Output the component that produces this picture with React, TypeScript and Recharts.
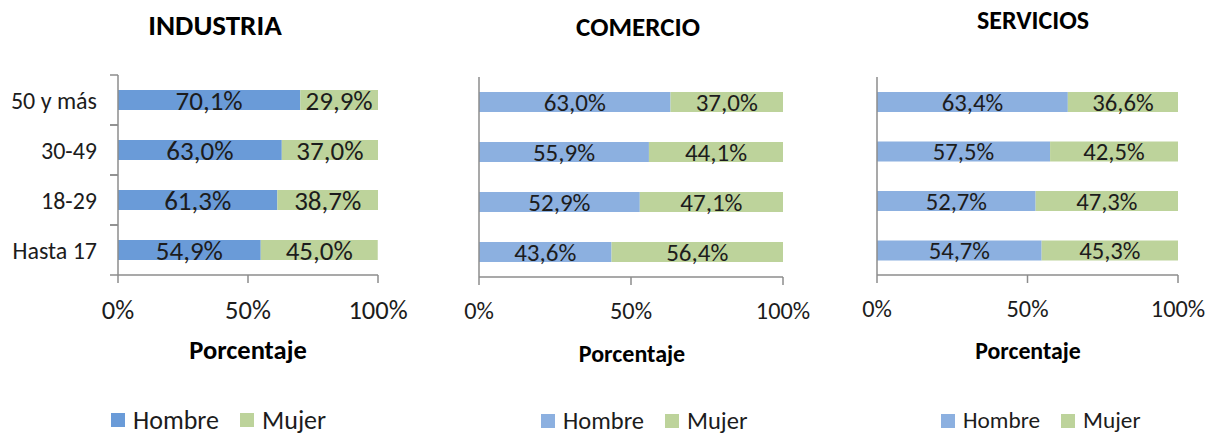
import React from 'react';
import { BarChart, Bar, XAxis, YAxis, LabelList, Legend } from 'recharts';

const ageGroups = ['50 y más', '30-49', '18-29', 'Hasta 17'];
const xTicks = [0, 50, 100];
const seriesNames = ['Hombre', 'Mujer'];

const industriaHombre = [70.1, 63.0, 61.3, 54.9];
const industriaMujer = [29.9, 37.0, 38.7, 45.0];
const comercioHombre = [63.0, 55.9, 52.9, 43.6];
const comercioMujer = [37.0, 44.1, 47.1, 56.4];
const serviciosHombre = [63.4, 57.5, 52.7, 54.7];
const serviciosMujer = [36.6, 42.5, 47.3, 45.3];

const FONT = 'Carlito, Lato, sans-serif';
const AXIS = '#8c8c8c';
const TEXT = '#1c1c1c';

const makeRows = (h: number[], m: number[]) =>
  ageGroups.map((age, i) => ({ age, hombre: h[i], mujer: m[i] }));

const fmt = (v: any) => `${Number(v).toFixed(1).replace('.', ',')}%`;

const CatTick = (props: any) => {
  const { x, y, payload, height, visibleTicksCount, fontSize } = props;
  const half =
    height && visibleTicksCount ? height / visibleTicksCount / 2 : payload?.offset || 25;
  const ax = x + 21;
  return (
    <g>
      <line x1={ax - 8} x2={ax} y1={y - half} y2={y - half} stroke={AXIS} strokeWidth={1.5} />
      <line x1={ax - 8} x2={ax} y1={y + half} y2={y + half} stroke={AXIS} strokeWidth={1.5} />
      <text x={x} y={y} dy="0.36em" textAnchor="end" fontSize={fontSize} fill={TEXT} fontFamily={FONT}>
        {payload.value}
      </text>
    </g>
  );
};

const LegendContent = (props: any) => {
  const { payload, fontSize } = props;
  return (
    <div style={{ display: 'flex', alignItems: 'center', fontFamily: FONT, fontSize, lineHeight: `${fontSize}px`, color: TEXT }}>
      {(payload || []).map((p: any, i: number) => (
        <div key={i} style={{ display: 'flex', alignItems: 'center', marginRight: i === 0 ? 21 : 0 }}>
          <span style={{ width: 14, height: 14, background: p.color, marginRight: 8, display: 'inline-block' }} />
          <span>{p.value}</span>
        </div>
      ))}
    </div>
  );
};

type PanelCfg = {
  title: string;
  rows: any[];
  blue: string;
  green: string;
  left: number;
  width: number;
  margin: { top: number; right: number; bottom: number; left: number };
  yWidth: number;
  showCats: boolean;
  titleX: number;
  titleY: number;
  titleSize: number;
  axisTitleX: number;
  axisTitleY: number;
  axisTitleSize: number;
  labelSize: number;
  tickSize: number;
  catSize: number;
  legendLeft: number;
  legendTop: number;
  legendSize: number;
};

const panels: PanelCfg[] = [
  {
    title: 'INDUSTRIA', rows: makeRows(industriaHombre, industriaMujer), blue: '#6a9bd8', green: '#bdd39b',
    left: 0, width: 410, margin: { top: 75, right: 32, bottom: 122, left: 0 }, yWidth: 118, showCats: true,
    titleX: 215, titleY: 25, titleSize: 29, axisTitleX: 248, axisTitleY: 350, axisTitleSize: 26.5,
    labelSize: 27, tickSize: 26.5, catSize: 24, legendLeft: 111, legendTop: 407, legendSize: 26,
  },
  {
    title: 'COMERCIO', rows: makeRows(comercioHombre, comercioMujer), blue: '#8cb0e0', green: '#bdd39b',
    left: 420, width: 400, margin: { top: 77, right: 37, bottom: 120, left: 0 }, yWidth: 59, showCats: false,
    titleX: 638, titleY: 26, titleSize: 27, axisTitleX: 632, axisTitleY: 354, axisTitleSize: 24,
    labelSize: 25, tickSize: 24.3, catSize: 22, legendLeft: 121, legendTop: 409, legendSize: 24.5,
  },
  {
    title: 'SERVICIOS', rows: makeRows(serviciosHombre, serviciosMujer), blue: '#8cb0e0', green: '#bdd39b',
    left: 820, width: 399, margin: { top: 77, right: 41, bottom: 122, left: 0 }, yWidth: 57, showCats: false,
    titleX: 1033, titleY: 20, titleSize: 26, axisTitleX: 1028, axisTitleY: 351, axisTitleSize: 23.8,
    labelSize: 24.7, tickSize: 24.3, catSize: 22, legendLeft: 121, legendTop: 409, legendSize: 23.3,
  },
];

const Panel = ({ cfg }: { cfg: PanelCfg }) => (
  <>
    <div
      style={{
        position: 'absolute', left: cfg.titleX - 150, top: cfg.titleY - cfg.titleSize / 2, width: 300,
        textAlign: 'center', fontFamily: FONT, fontWeight: 'bold', fontSize: cfg.titleSize,
        lineHeight: `${cfg.titleSize}px`, color: '#000',
      }}
    >
      {cfg.title}
    </div>
    <div
      style={{
        position: 'absolute', left: cfg.axisTitleX - 150, top: cfg.axisTitleY - cfg.axisTitleSize / 2, width: 300,
        textAlign: 'center', fontFamily: FONT, fontWeight: 'bold', fontSize: cfg.axisTitleSize,
        lineHeight: `${cfg.axisTitleSize}px`, color: '#000',
      }}
    >
      Porcentaje
    </div>
    <div style={{ position: 'absolute', left: cfg.left, top: 0 }}>
      <BarChart width={cfg.width} height={437} data={cfg.rows} layout="vertical" margin={cfg.margin}>
        <XAxis
          type="number"
          domain={[0, 100]}
          ticks={xTicks}
          tickFormatter={(v: number) => `${v}%`}
          axisLine={{ stroke: AXIS, strokeWidth: 1.5 }}
          tickLine={{ stroke: AXIS, strokeWidth: 1.5 }}
          tickSize={8}
          tickMargin={17}
          height={40}
          interval={0}
          tick={{ fontSize: cfg.tickSize, fill: TEXT, fontFamily: FONT }}
        />
        <YAxis
          type="category"
          dataKey="age"
          width={cfg.yWidth}
          axisLine={{ stroke: AXIS, strokeWidth: 1.5 }}
          tickLine={false}
          tickSize={8}
          tickMargin={13}
          interval={0}
          tick={cfg.showCats ? (p: any) => <CatTick {...p} fontSize={cfg.catSize} /> : false}
        />
        <Legend
          layout="vertical"
          verticalAlign="middle"
          align="center"
          wrapperStyle={{ position: 'absolute', left: cfg.legendLeft, top: cfg.legendTop, width: 'auto', height: 'auto' }}
          content={(p: any) => <LegendContent {...p} fontSize={cfg.legendSize} />}
        />
        <Bar dataKey="hombre" name={seriesNames[0]} stackId="s" fill={cfg.blue} barSize={20} isAnimationActive={false}>
          <LabelList dataKey="hombre" position="center" formatter={fmt} fill={TEXT} fontSize={cfg.labelSize} fontFamily={FONT} />
        </Bar>
        <Bar dataKey="mujer" name={seriesNames[1]} stackId="s" fill={cfg.green} barSize={20} isAnimationActive={false}>
          <LabelList dataKey="mujer" position="center" formatter={fmt} fill={TEXT} fontSize={cfg.labelSize} fontFamily={FONT} />
        </Bar>
      </BarChart>
    </div>
  </>
);

export default function App() {
  return (
    <div style={{ position: 'absolute', left: 0, top: 0, width: 1219, height: 437, background: '#fff', overflow: 'hidden' }}>
      {panels.map((cfg) => (
        <Panel key={cfg.title} cfg={cfg} />
      ))}
    </div>
  );
}
